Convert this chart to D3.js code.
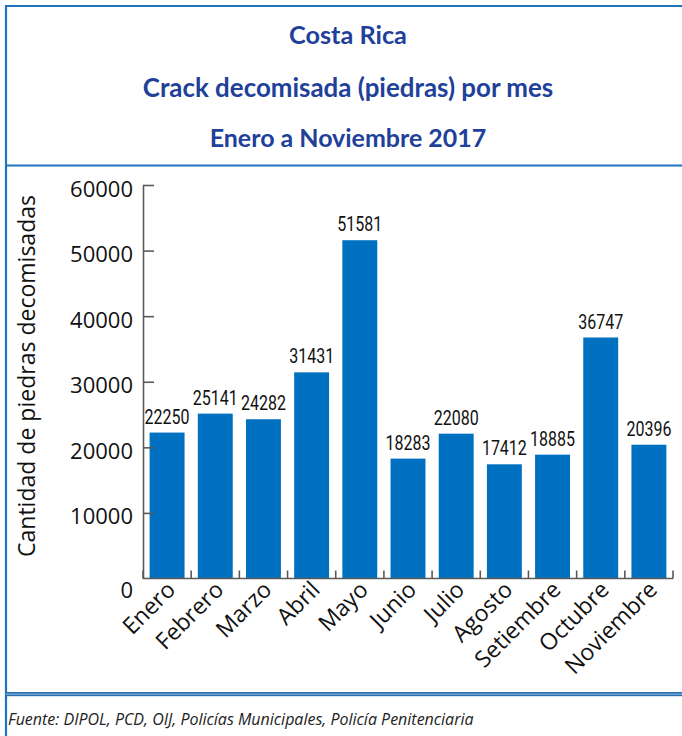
<!DOCTYPE html>
<html>
<head>
<meta charset="utf-8">
<script src="https://cdn.jsdelivr.net/npm/d3@7"></script>
<style>
  html, body { margin: 0; padding: 0; background: #ffffff; }
  svg { display: block; }
</style>
</head>
<body>
<div id="chart"></div>
<script>
// ---- data ----
const months = ["Enero", "Febrero", "Marzo", "Abril", "Mayo", "Junio", "Julio", "Agosto", "Setiembre", "Octubre", "Noviembre"];
const values = [22250, 25141, 24282, 31431, 51581, 18283, 22080, 17412, 18885, 36747, 20396];
const yTicks = [0, 10000, 20000, 30000, 40000, 50000, 60000];
const titleLines = ["Costa Rica", "Crack decomisada (piedras) por mes", "Enero a Noviembre 2017"];
const yTitle = "Cantidad de piedras decomisadas";
const source = "Fuente: DIPOL, PCD, OIJ, Policías Municipales, Policía Penitenciaria";

// ---- layout ----
const W = 682, H = 736;
const frameColor = "#1f74bd";
const titleColor = "#21409a";
const barColor = "#0070c0";
const axisColor = "#5a5a5a";
const plot = { left: 143, right: 673, top: 185, bottom: 578.5 };

const svg = d3.select("#chart").append("svg").attr("width", W).attr("height", H);

// frame
svg.append("line").attr("x1", 5).attr("x2", W).attr("y1", 6).attr("y2", 6)
  .attr("stroke", frameColor).attr("stroke-width", 2.2);
svg.append("line").attr("x1", 6).attr("x2", 6).attr("y1", 5).attr("y2", H)
  .attr("stroke", frameColor).attr("stroke-width", 2.2);
svg.append("line").attr("x1", 6).attr("x2", W).attr("y1", 165.5).attr("y2", 165.5)
  .attr("stroke", frameColor).attr("stroke-width", 2.2);
// footer double rule
svg.append("rect").attr("x", 6).attr("y", 692).attr("width", W - 6).attr("height", 4.2)
  .attr("fill", "#2a6fb0");
svg.append("line").attr("x1", 6).attr("x2", W).attr("y1", 694.1).attr("y2", 694.1)
  .attr("stroke", "#7fb1de").attr("stroke-width", 1.2);

// helper: fit a text to a target width
function fit(sel, target, base) {
  sel.style("font-size", base + "px");
  const w = sel.node().getComputedTextLength();
  sel.style("font-size", (base * target / w).toFixed(2) + "px");
}

// titles
const titleY = [44.3, 96.7, 146.7];
const titleW = [118, 410.6, 276.7];
titleLines.forEach((t, i) => {
  const tx = svg.append("text").attr("x", 348).attr("y", titleY[i])
    .attr("text-anchor", "middle")
    .style("font-family", "Lato, 'Open Sans', sans-serif")
    .style("font-weight", "bold")
    .style("fill", titleColor)
    .text(t);
  fit(tx, titleW[i], 24);
});

// scales
const x = d3.scaleBand().domain(months).range([plot.left, plot.right])
  .paddingInner(0.275).paddingOuter(0.1375);
const y = d3.scaleLinear().domain([0, 60000]).range([plot.bottom, plot.top]);

// bars
svg.append("g").selectAll("rect").data(values).join("rect")
  .attr("x", (d, i) => x(months[i]))
  .attr("y", d => y(d))
  .attr("width", x.bandwidth())
  .attr("height", d => y(0) - y(d))
  .attr("fill", barColor);

// value labels (condensed look via horizontal scale)
svg.append("g").selectAll("text").data(values).join("text")
  .attr("transform", (d, i) =>
    `translate(${x(months[i]) + x.bandwidth() / 2},${y(d) - 9}) scale(0.8,1)`)
  .attr("text-anchor", "middle")
  .style("font-family", "Roboto, 'Liberation Sans', sans-serif")
  .style("font-size", "20px")
  .style("fill", "#111")
  .text(d => d);

// y axis
const yAxis = svg.append("g").attr("transform", `translate(${plot.left},0)`)
  .call(d3.axisLeft(y).tickValues(yTicks).tickSize(-11).tickSizeOuter(0).tickPadding(10)
    .tickFormat(d3.format("d")));
yAxis.select(".domain").attr("stroke", axisColor).attr("stroke-width", 1.6);
yAxis.selectAll(".tick line").attr("stroke", axisColor).attr("stroke-width", 1.6)
  .filter(d => d === 0).remove();
yAxis.selectAll(".tick text")
  .style("font-family", "'Open Sans', sans-serif")
  .style("font-size", "22px")
  .style("fill", "#111")
  .attr("dy", d => d === 0 ? "0.85em" : "0.5em");

// x axis: domain line + boundary ticks
const step = x.step();
const boundaries = months.map(m => x(m) - (step - x.bandwidth()) / 2).concat([plot.right]);
const xg = svg.append("g");
xg.append("line").attr("x1", plot.left).attr("x2", plot.right)
  .attr("y1", plot.bottom).attr("y2", plot.bottom)
  .attr("stroke", axisColor).attr("stroke-width", 1.6);
xg.selectAll("line.tk").data(boundaries).join("line").attr("class", "tk")
  .attr("x1", d => d).attr("x2", d => d)
  .attr("y1", plot.bottom).attr("y2", plot.bottom - 8)
  .attr("stroke", axisColor).attr("stroke-width", 1.6);

// x labels
const xAxis = svg.append("g").attr("transform", `translate(0,${plot.bottom})`)
  .call(d3.axisBottom(x).tickSize(0).tickPadding(0));
xAxis.select(".domain").remove();
xAxis.selectAll(".tick text")
  .attr("text-anchor", "end")
  .attr("transform", "translate(4,7) rotate(-45)")
  .attr("dy", "0.35em")
  .attr("y", 0)
  .style("font-family", "'Open Sans', sans-serif")
  .style("font-size", "23px")
  .style("fill", "#111");

// y title
const yt = svg.append("text")
  .attr("transform", "translate(34.5,376) rotate(-90)")
  .attr("text-anchor", "middle")
  .style("font-family", "'Open Sans', sans-serif")
  .style("fill", "#111")
  .text(yTitle);
fit(yt, 362, 20);

// source
const src = svg.append("text").attr("x", 8).attr("y", 724.5)
  .style("font-family", "'Open Sans', sans-serif")
  .style("font-style", "italic")
  .style("fill", "#222")
  .text(source);
fit(src, 466, 14);
</script>
</body>
</html>
